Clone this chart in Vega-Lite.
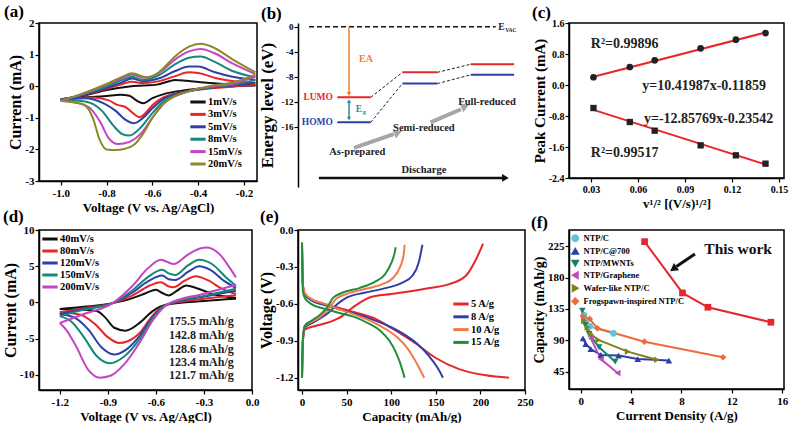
{
"$schema": "https://vega.github.io/schema/vega-lite/v6.json",
"background": "white",
"padding": {"left": 1, "top": 2, "right": 2, "bottom": 2},
"columns": 3,
"bounds": "flush",
"spacing": {"row": 43, "column": 41},
"resolve": {"scale": {"color": "independent", "shape": "independent"}, "legend": {"color": "independent", "shape": "independent"}},
"config": {
  "locale": {"number": {"decimal": ".", "thousands": ",", "grouping": [3], "currency": ["", ""], "minus": "-"}},
  "font": "Liberation Serif",
  "view": {"stroke": "black", "strokeWidth": 1.5},
  "axis": {"grid": false, "domainColor": "black", "domainWidth": 1.5, "tickColor": "black", "tickWidth": 1.2, "tickSize": 4, "labelFont": "Liberation Serif", "labelFontWeight": "bold", "labelFontSize": 11, "labelColor": "black", "labelFlush": false, "labelPadding": 2, "titleFont": "Liberation Serif", "titleFontWeight": "bold", "titleFontSize": 13, "titleColor": "black", "titlePadding": 3},
  "axisY": {"titleFontSize": 16, "titlePadding": 1, "labelPadding": 1},
  "legend": {"labelFont": "Liberation Serif", "labelFontWeight": "bold", "labelColor": "black", "labelFontSize": 11},
  "title": {"font": "Liberation Serif", "fontSize": 17, "fontWeight": "bold", "anchor": "start", "frame": "group", "color": "black", "offset": -4},
  "text": {"font": "Liberation Serif", "fontWeight": "bold", "color": "black"}
},
"datasets": {
  "A": [
    {"s":"1mV/s","b":"u","V":-1.0,"I":-0.41},{"s":"1mV/s","b":"u","V":-0.9,"I":-0.3},{"s":"1mV/s","b":"u","V":-0.8,"I":-0.12},{"s":"1mV/s","b":"u","V":-0.7,"I":-0.01},{"s":"1mV/s","b":"u","V":-0.64,"I":0.02},{"s":"1mV/s","b":"u","V":-0.58,"I":0.05},{"s":"1mV/s","b":"u","V":-0.53,"I":0.15},{"s":"1mV/s","b":"u","V":-0.5,"I":0.2},{"s":"1mV/s","b":"u","V":-0.45,"I":0.17},{"s":"1mV/s","b":"u","V":-0.35,"I":0.1},{"s":"1mV/s","b":"u","V":-0.25,"I":0.06},{"s":"1mV/s","b":"u","V":-0.15,"I":0.04},
    {"s":"1mV/s","b":"l","V":-0.15,"I":0.02},{"s":"1mV/s","b":"l","V":-0.25,"I":0.0},{"s":"1mV/s","b":"l","V":-0.35,"I":-0.04},{"s":"1mV/s","b":"l","V":-0.45,"I":-0.12},{"s":"1mV/s","b":"l","V":-0.55,"I":-0.25},{"s":"1mV/s","b":"l","V":-0.6,"I":-0.38},{"s":"1mV/s","b":"l","V":-0.64,"I":-0.54},{"s":"1mV/s","b":"l","V":-0.67,"I":-0.45},{"s":"1mV/s","b":"l","V":-0.7,"I":-0.3},{"s":"1mV/s","b":"l","V":-0.74,"I":-0.27},{"s":"1mV/s","b":"l","V":-0.8,"I":-0.31},{"s":"1mV/s","b":"l","V":-0.9,"I":-0.36},{"s":"1mV/s","b":"l","V":-1.0,"I":-0.41},
    {"s":"3mV/s","b":"u","V":-1.0,"I":-0.42},{"s":"3mV/s","b":"u","V":-0.9,"I":-0.28},{"s":"3mV/s","b":"u","V":-0.8,"I":-0.08},{"s":"3mV/s","b":"u","V":-0.73,"I":0.07},{"s":"3mV/s","b":"u","V":-0.69,"I":0.14},{"s":"3mV/s","b":"u","V":-0.64,"I":0.1},{"s":"3mV/s","b":"u","V":-0.57,"I":0.16},{"s":"3mV/s","b":"u","V":-0.5,"I":0.32},{"s":"3mV/s","b":"u","V":-0.44,"I":0.44},{"s":"3mV/s","b":"u","V":-0.4,"I":0.42},{"s":"3mV/s","b":"u","V":-0.32,"I":0.25},{"s":"3mV/s","b":"u","V":-0.22,"I":0.13},{"s":"3mV/s","b":"u","V":-0.15,"I":0.1},
    {"s":"3mV/s","b":"l","V":-0.15,"I":0.05},{"s":"3mV/s","b":"l","V":-0.25,"I":-0.02},{"s":"3mV/s","b":"l","V":-0.35,"I":-0.07},{"s":"3mV/s","b":"l","V":-0.45,"I":-0.16},{"s":"3mV/s","b":"l","V":-0.55,"I":-0.35},{"s":"3mV/s","b":"l","V":-0.6,"I":-0.6},{"s":"3mV/s","b":"l","V":-0.63,"I":-0.85},{"s":"3mV/s","b":"l","V":-0.655,"I":-0.98},{"s":"3mV/s","b":"l","V":-0.69,"I":-0.82},{"s":"3mV/s","b":"l","V":-0.72,"I":-0.65},{"s":"3mV/s","b":"l","V":-0.75,"I":-0.6},{"s":"3mV/s","b":"l","V":-0.79,"I":-0.45},{"s":"3mV/s","b":"l","V":-0.86,"I":-0.36},{"s":"3mV/s","b":"l","V":-1.0,"I":-0.42},
    {"s":"5mV/s","b":"u","V":-1.0,"I":-0.43},{"s":"5mV/s","b":"u","V":-0.9,"I":-0.27},{"s":"5mV/s","b":"u","V":-0.8,"I":-0.05},{"s":"5mV/s","b":"u","V":-0.73,"I":0.13},{"s":"5mV/s","b":"u","V":-0.69,"I":0.24},{"s":"5mV/s","b":"u","V":-0.64,"I":0.16},{"s":"5mV/s","b":"u","V":-0.57,"I":0.25},{"s":"5mV/s","b":"u","V":-0.5,"I":0.48},{"s":"5mV/s","b":"u","V":-0.44,"I":0.62},{"s":"5mV/s","b":"u","V":-0.4,"I":0.62},{"s":"5mV/s","b":"u","V":-0.33,"I":0.45},{"s":"5mV/s","b":"u","V":-0.25,"I":0.3},{"s":"5mV/s","b":"u","V":-0.15,"I":0.2},
    {"s":"5mV/s","b":"l","V":-0.15,"I":0.12},{"s":"5mV/s","b":"l","V":-0.25,"I":0.02},{"s":"5mV/s","b":"l","V":-0.35,"I":-0.05},{"s":"5mV/s","b":"l","V":-0.45,"I":-0.17},{"s":"5mV/s","b":"l","V":-0.55,"I":-0.4},{"s":"5mV/s","b":"l","V":-0.6,"I":-0.7},{"s":"5mV/s","b":"l","V":-0.64,"I":-1.0},{"s":"5mV/s","b":"l","V":-0.68,"I":-1.17},{"s":"5mV/s","b":"l","V":-0.72,"I":-1.05},{"s":"5mV/s","b":"l","V":-0.76,"I":-0.78},{"s":"5mV/s","b":"l","V":-0.81,"I":-0.55},{"s":"5mV/s","b":"l","V":-0.9,"I":-0.38},{"s":"5mV/s","b":"l","V":-1.0,"I":-0.43},
    {"s":"8mV/s","b":"u","V":-1.0,"I":-0.44},{"s":"8mV/s","b":"u","V":-0.9,"I":-0.25},{"s":"8mV/s","b":"u","V":-0.8,"I":0.0},{"s":"8mV/s","b":"u","V":-0.73,"I":0.2},{"s":"8mV/s","b":"u","V":-0.69,"I":0.3},{"s":"8mV/s","b":"u","V":-0.64,"I":0.2},{"s":"8mV/s","b":"u","V":-0.57,"I":0.35},{"s":"8mV/s","b":"u","V":-0.5,"I":0.7},{"s":"8mV/s","b":"u","V":-0.44,"I":0.9},{"s":"8mV/s","b":"u","V":-0.39,"I":0.94},{"s":"8mV/s","b":"u","V":-0.33,"I":0.78},{"s":"8mV/s","b":"u","V":-0.25,"I":0.48},{"s":"8mV/s","b":"u","V":-0.15,"I":0.28},
    {"s":"8mV/s","b":"l","V":-0.15,"I":0.2},{"s":"8mV/s","b":"l","V":-0.25,"I":0.04},{"s":"8mV/s","b":"l","V":-0.35,"I":-0.04},{"s":"8mV/s","b":"l","V":-0.45,"I":-0.18},{"s":"8mV/s","b":"l","V":-0.55,"I":-0.48},{"s":"8mV/s","b":"l","V":-0.6,"I":-0.85},{"s":"8mV/s","b":"l","V":-0.65,"I":-1.3},{"s":"8mV/s","b":"l","V":-0.7,"I":-1.56},{"s":"8mV/s","b":"l","V":-0.73,"I":-1.52},{"s":"8mV/s","b":"l","V":-0.77,"I":-1.25},{"s":"8mV/s","b":"l","V":-0.82,"I":-0.78},{"s":"8mV/s","b":"l","V":-0.9,"I":-0.48},{"s":"8mV/s","b":"l","V":-1.0,"I":-0.44},
    {"s":"15mV/s","b":"u","V":-1.0,"I":-0.46},{"s":"15mV/s","b":"u","V":-0.9,"I":-0.23},{"s":"15mV/s","b":"u","V":-0.8,"I":0.05},{"s":"15mV/s","b":"u","V":-0.73,"I":0.26},{"s":"15mV/s","b":"u","V":-0.69,"I":0.37},{"s":"15mV/s","b":"u","V":-0.64,"I":0.27},{"s":"15mV/s","b":"u","V":-0.57,"I":0.42},{"s":"15mV/s","b":"u","V":-0.5,"I":0.85},{"s":"15mV/s","b":"u","V":-0.44,"I":1.1},{"s":"15mV/s","b":"u","V":-0.39,"I":1.18},{"s":"15mV/s","b":"u","V":-0.33,"I":1.05},{"s":"15mV/s","b":"u","V":-0.25,"I":0.72},{"s":"15mV/s","b":"u","V":-0.15,"I":0.38},
    {"s":"15mV/s","b":"l","V":-0.15,"I":0.3},{"s":"15mV/s","b":"l","V":-0.25,"I":0.08},{"s":"15mV/s","b":"l","V":-0.35,"I":-0.02},{"s":"15mV/s","b":"l","V":-0.45,"I":-0.18},{"s":"15mV/s","b":"l","V":-0.55,"I":-0.55},{"s":"15mV/s","b":"l","V":-0.6,"I":-1.0},{"s":"15mV/s","b":"l","V":-0.65,"I":-1.5},{"s":"15mV/s","b":"l","V":-0.7,"I":-1.76},{"s":"15mV/s","b":"l","V":-0.75,"I":-1.83},{"s":"15mV/s","b":"l","V":-0.79,"I":-1.65},{"s":"15mV/s","b":"l","V":-0.83,"I":-1.1},{"s":"15mV/s","b":"l","V":-0.88,"I":-0.65},{"s":"15mV/s","b":"l","V":-0.95,"I":-0.5},{"s":"15mV/s","b":"l","V":-1.0,"I":-0.46},
    {"s":"20mV/s","b":"u","V":-1.0,"I":-0.47},{"s":"20mV/s","b":"u","V":-0.9,"I":-0.22},{"s":"20mV/s","b":"u","V":-0.8,"I":0.07},{"s":"20mV/s","b":"u","V":-0.73,"I":0.3},{"s":"20mV/s","b":"u","V":-0.69,"I":0.41},{"s":"20mV/s","b":"u","V":-0.62,"I":0.27},{"s":"20mV/s","b":"u","V":-0.57,"I":0.45},{"s":"20mV/s","b":"u","V":-0.5,"I":0.95},{"s":"20mV/s","b":"u","V":-0.44,"I":1.25},{"s":"20mV/s","b":"u","V":-0.39,"I":1.34},{"s":"20mV/s","b":"u","V":-0.34,"I":1.25},{"s":"20mV/s","b":"u","V":-0.25,"I":0.85},{"s":"20mV/s","b":"u","V":-0.15,"I":0.44},
    {"s":"20mV/s","b":"l","V":-0.15,"I":0.36},{"s":"20mV/s","b":"l","V":-0.25,"I":0.12},{"s":"20mV/s","b":"l","V":-0.35,"I":0.0},{"s":"20mV/s","b":"l","V":-0.45,"I":-0.18},{"s":"20mV/s","b":"l","V":-0.55,"I":-0.55},{"s":"20mV/s","b":"l","V":-0.6,"I":-1.0},{"s":"20mV/s","b":"l","V":-0.64,"I":-1.5},{"s":"20mV/s","b":"l","V":-0.68,"I":-1.85},{"s":"20mV/s","b":"l","V":-0.72,"I":-1.98},{"s":"20mV/s","b":"l","V":-0.76,"I":-2.02},{"s":"20mV/s","b":"l","V":-0.8,"I":-2.0},{"s":"20mV/s","b":"l","V":-0.83,"I":-1.7},{"s":"20mV/s","b":"l","V":-0.86,"I":-1.0},{"s":"20mV/s","b":"l","V":-0.9,"I":-0.58},{"s":"20mV/s","b":"l","V":-0.95,"I":-0.5},{"s":"20mV/s","b":"l","V":-1.0,"I":-0.47}
  ],
  "D": [
    {"s":"40mV/s","b":"u","V":-1.2,"I":-0.9},{"s":"40mV/s","b":"u","V":-1.05,"I":-0.6},{"s":"40mV/s","b":"u","V":-0.87,"I":-0.1},{"s":"40mV/s","b":"u","V":-0.75,"I":0.55},{"s":"40mV/s","b":"u","V":-0.66,"I":1.3},{"s":"40mV/s","b":"u","V":-0.6,"I":1.75},{"s":"40mV/s","b":"u","V":-0.56,"I":1.3},{"s":"40mV/s","b":"u","V":-0.52,"I":0.97},{"s":"40mV/s","b":"u","V":-0.47,"I":1.6},{"s":"40mV/s","b":"u","V":-0.41,"I":2.35},{"s":"40mV/s","b":"u","V":-0.35,"I":2.0},{"s":"40mV/s","b":"u","V":-0.25,"I":1.2},{"s":"40mV/s","b":"u","V":-0.1,"I":0.6},
    {"s":"40mV/s","b":"l","V":-0.1,"I":0.5},{"s":"40mV/s","b":"l","V":-0.3,"I":0.2},{"s":"40mV/s","b":"l","V":-0.53,"I":-0.3},{"s":"40mV/s","b":"l","V":-0.62,"I":-1.2},{"s":"40mV/s","b":"l","V":-0.7,"I":-2.8},{"s":"40mV/s","b":"l","V":-0.79,"I":-3.9},{"s":"40mV/s","b":"l","V":-0.86,"I":-3.5},{"s":"40mV/s","b":"l","V":-0.92,"I":-2.0},{"s":"40mV/s","b":"l","V":-0.97,"I":-1.2},{"s":"40mV/s","b":"l","V":-1.05,"I":-1.0},{"s":"40mV/s","b":"l","V":-1.2,"I":-0.9},
    {"s":"80mV/s","b":"u","V":-1.2,"I":-1.35},{"s":"80mV/s","b":"u","V":-1.05,"I":-0.8},{"s":"80mV/s","b":"u","V":-0.87,"I":-0.1},{"s":"80mV/s","b":"u","V":-0.75,"I":0.9},{"s":"80mV/s","b":"u","V":-0.65,"I":2.2},{"s":"80mV/s","b":"u","V":-0.57,"I":2.8},{"s":"80mV/s","b":"u","V":-0.52,"I":2.2},{"s":"80mV/s","b":"u","V":-0.49,"I":2.1},{"s":"80mV/s","b":"u","V":-0.42,"I":3.0},{"s":"80mV/s","b":"u","V":-0.35,"I":3.6},{"s":"80mV/s","b":"u","V":-0.28,"I":3.1},{"s":"80mV/s","b":"u","V":-0.18,"I":1.8},{"s":"80mV/s","b":"u","V":-0.1,"I":1.15},
    {"s":"80mV/s","b":"l","V":-0.1,"I":1.0},{"s":"80mV/s","b":"l","V":-0.3,"I":0.5},{"s":"80mV/s","b":"l","V":-0.53,"I":-0.3},{"s":"80mV/s","b":"l","V":-0.62,"I":-1.8},{"s":"80mV/s","b":"l","V":-0.7,"I":-4.2},{"s":"80mV/s","b":"l","V":-0.78,"I":-5.4},{"s":"80mV/s","b":"l","V":-0.83,"I":-5.6},{"s":"80mV/s","b":"l","V":-0.9,"I":-4.8},{"s":"80mV/s","b":"l","V":-0.98,"I":-3.0},{"s":"80mV/s","b":"l","V":-1.07,"I":-1.7},{"s":"80mV/s","b":"l","V":-1.2,"I":-1.35},
    {"s":"120mV/s","b":"u","V":-1.2,"I":-1.6},{"s":"120mV/s","b":"u","V":-1.05,"I":-0.9},{"s":"120mV/s","b":"u","V":-0.87,"I":-0.1},{"s":"120mV/s","b":"u","V":-0.75,"I":1.3},{"s":"120mV/s","b":"u","V":-0.65,"I":2.9},{"s":"120mV/s","b":"u","V":-0.56,"I":3.7},{"s":"120mV/s","b":"u","V":-0.52,"I":3.2},{"s":"120mV/s","b":"u","V":-0.48,"I":3.1},{"s":"120mV/s","b":"u","V":-0.4,"I":4.2},{"s":"120mV/s","b":"u","V":-0.33,"I":5.0},{"s":"120mV/s","b":"u","V":-0.26,"I":4.5},{"s":"120mV/s","b":"u","V":-0.17,"I":2.9},{"s":"120mV/s","b":"u","V":-0.1,"I":2.0},
    {"s":"120mV/s","b":"l","V":-0.1,"I":1.6},{"s":"120mV/s","b":"l","V":-0.3,"I":0.8},{"s":"120mV/s","b":"l","V":-0.53,"I":-0.3},{"s":"120mV/s","b":"l","V":-0.62,"I":-2.0},{"s":"120mV/s","b":"l","V":-0.7,"I":-4.6},{"s":"120mV/s","b":"l","V":-0.79,"I":-6.6},{"s":"120mV/s","b":"l","V":-0.86,"I":-7.2},{"s":"120mV/s","b":"l","V":-0.94,"I":-6.2},{"s":"120mV/s","b":"l","V":-1.02,"I":-3.8},{"s":"120mV/s","b":"l","V":-1.1,"I":-2.2},{"s":"120mV/s","b":"l","V":-1.2,"I":-1.6},
    {"s":"150mV/s","b":"u","V":-1.2,"I":-1.9},{"s":"150mV/s","b":"u","V":-1.05,"I":-1.0},{"s":"150mV/s","b":"u","V":-0.87,"I":-0.1},{"s":"150mV/s","b":"u","V":-0.75,"I":1.6},{"s":"150mV/s","b":"u","V":-0.65,"I":3.5},{"s":"150mV/s","b":"u","V":-0.56,"I":4.5},{"s":"150mV/s","b":"u","V":-0.52,"I":4.0},{"s":"150mV/s","b":"u","V":-0.48,"I":3.8},{"s":"150mV/s","b":"u","V":-0.4,"I":5.1},{"s":"150mV/s","b":"u","V":-0.33,"I":5.9},{"s":"150mV/s","b":"u","V":-0.25,"I":5.3},{"s":"150mV/s","b":"u","V":-0.16,"I":3.4},{"s":"150mV/s","b":"u","V":-0.1,"I":2.3},
    {"s":"150mV/s","b":"l","V":-0.1,"I":1.9},{"s":"150mV/s","b":"l","V":-0.3,"I":0.9},{"s":"150mV/s","b":"l","V":-0.53,"I":-0.3},{"s":"150mV/s","b":"l","V":-0.62,"I":-2.2},{"s":"150mV/s","b":"l","V":-0.7,"I":-5.0},{"s":"150mV/s","b":"l","V":-0.8,"I":-7.5},{"s":"150mV/s","b":"l","V":-0.89,"I":-8.4},{"s":"150mV/s","b":"l","V":-0.97,"I":-7.4},{"s":"150mV/s","b":"l","V":-1.05,"I":-4.8},{"s":"150mV/s","b":"l","V":-1.12,"I":-2.8},{"s":"150mV/s","b":"l","V":-1.2,"I":-1.9},
    {"s":"200mV/s","b":"u","V":-1.2,"I":-2.85},{"s":"200mV/s","b":"u","V":-1.05,"I":-1.6},{"s":"200mV/s","b":"u","V":-0.87,"I":-0.1},{"s":"200mV/s","b":"u","V":-0.75,"I":2.2},{"s":"200mV/s","b":"u","V":-0.65,"I":4.7},{"s":"200mV/s","b":"u","V":-0.57,"I":5.9},{"s":"200mV/s","b":"u","V":-0.53,"I":5.6},{"s":"200mV/s","b":"u","V":-0.49,"I":5.3},{"s":"200mV/s","b":"u","V":-0.4,"I":6.6},{"s":"200mV/s","b":"u","V":-0.33,"I":7.4},{"s":"200mV/s","b":"u","V":-0.28,"I":7.6},{"s":"200mV/s","b":"u","V":-0.2,"I":6.6},{"s":"200mV/s","b":"u","V":-0.14,"I":4.8},{"s":"200mV/s","b":"u","V":-0.1,"I":3.45},
    {"s":"200mV/s","b":"l","V":-0.1,"I":2.4},{"s":"200mV/s","b":"l","V":-0.3,"I":1.2},{"s":"200mV/s","b":"l","V":-0.53,"I":-0.3},{"s":"200mV/s","b":"l","V":-0.62,"I":-2.5},{"s":"200mV/s","b":"l","V":-0.7,"I":-5.5},{"s":"200mV/s","b":"l","V":-0.8,"I":-8.6},{"s":"200mV/s","b":"l","V":-0.88,"I":-10.1},{"s":"200mV/s","b":"l","V":-0.95,"I":-10.4},{"s":"200mV/s","b":"l","V":-1.02,"I":-9.4},{"s":"200mV/s","b":"l","V":-1.1,"I":-6.0},{"s":"200mV/s","b":"l","V":-1.16,"I":-3.8},{"s":"200mV/s","b":"l","V":-1.2,"I":-2.85}
  ],
  "E": [
    {"s":"5 A/g","b":"d","C":0,"V":-0.12},{"s":"5 A/g","b":"d","C":1,"V":-0.45},{"s":"5 A/g","b":"d","C":3,"V":-0.52},{"s":"5 A/g","b":"d","C":10,"V":-0.56},{"s":"5 A/g","b":"d","C":25,"V":-0.6},{"s":"5 A/g","b":"d","C":40,"V":-0.63},{"s":"5 A/g","b":"d","C":60,"V":-0.67},{"s":"5 A/g","b":"d","C":82,"V":-0.72},{"s":"5 A/g","b":"d","C":101,"V":-0.8},{"s":"5 A/g","b":"d","C":127,"V":-0.92},{"s":"5 A/g","b":"d","C":150,"V":-1.04},{"s":"5 A/g","b":"d","C":176,"V":-1.13},{"s":"5 A/g","b":"d","C":206,"V":-1.18},{"s":"5 A/g","b":"d","C":232,"V":-1.2},
    {"s":"5 A/g","b":"c","C":0,"V":-1.2},{"s":"5 A/g","b":"c","C":1,"V":-0.9},{"s":"5 A/g","b":"c","C":3,"V":-0.81},{"s":"5 A/g","b":"c","C":15,"V":-0.78},{"s":"5 A/g","b":"c","C":30,"V":-0.75},{"s":"5 A/g","b":"c","C":45,"V":-0.7},{"s":"5 A/g","b":"c","C":55,"V":-0.64},{"s":"5 A/g","b":"c","C":65,"V":-0.59},{"s":"5 A/g","b":"c","C":75,"V":-0.55},{"s":"5 A/g","b":"c","C":100,"V":-0.52},{"s":"5 A/g","b":"c","C":120,"V":-0.5},{"s":"5 A/g","b":"c","C":145,"V":-0.47},{"s":"5 A/g","b":"c","C":165,"V":-0.44},{"s":"5 A/g","b":"c","C":184,"V":-0.37},{"s":"5 A/g","b":"c","C":195,"V":-0.24},{"s":"5 A/g","b":"c","C":203,"V":-0.11},
    {"s":"8 A/g","b":"d","C":0,"V":-0.12},{"s":"8 A/g","b":"d","C":1,"V":-0.45},{"s":"8 A/g","b":"d","C":3,"V":-0.52},{"s":"8 A/g","b":"d","C":10,"V":-0.57},{"s":"8 A/g","b":"d","C":25,"V":-0.61},{"s":"8 A/g","b":"d","C":40,"V":-0.64},{"s":"8 A/g","b":"d","C":60,"V":-0.68},{"s":"8 A/g","b":"d","C":80,"V":-0.73},{"s":"8 A/g","b":"d","C":100,"V":-0.79},{"s":"8 A/g","b":"d","C":115,"V":-0.85},{"s":"8 A/g","b":"d","C":130,"V":-0.93},{"s":"8 A/g","b":"d","C":142,"V":-1.02},{"s":"8 A/g","b":"d","C":152,"V":-1.12},{"s":"8 A/g","b":"d","C":158,"V":-1.2},
    {"s":"8 A/g","b":"c","C":0,"V":-1.2},{"s":"8 A/g","b":"c","C":1,"V":-0.9},{"s":"8 A/g","b":"c","C":3,"V":-0.79},{"s":"8 A/g","b":"c","C":10,"V":-0.76},{"s":"8 A/g","b":"c","C":20,"V":-0.72},{"s":"8 A/g","b":"c","C":30,"V":-0.67},{"s":"8 A/g","b":"c","C":40,"V":-0.6},{"s":"8 A/g","b":"c","C":50,"V":-0.55},{"s":"8 A/g","b":"c","C":70,"V":-0.51},{"s":"8 A/g","b":"c","C":95,"V":-0.47},{"s":"8 A/g","b":"c","C":112,"V":-0.43},{"s":"8 A/g","b":"c","C":124,"V":-0.37},{"s":"8 A/g","b":"c","C":131,"V":-0.26},{"s":"8 A/g","b":"c","C":135,"V":-0.12},
    {"s":"10 A/g","b":"d","C":0,"V":-0.12},{"s":"10 A/g","b":"d","C":1,"V":-0.45},{"s":"10 A/g","b":"d","C":3,"V":-0.51},{"s":"10 A/g","b":"d","C":10,"V":-0.56},{"s":"10 A/g","b":"d","C":25,"V":-0.6},{"s":"10 A/g","b":"d","C":40,"V":-0.64},{"s":"10 A/g","b":"d","C":60,"V":-0.69},{"s":"10 A/g","b":"d","C":80,"V":-0.75},{"s":"10 A/g","b":"d","C":95,"V":-0.81},{"s":"10 A/g","b":"d","C":108,"V":-0.88},{"s":"10 A/g","b":"d","C":118,"V":-0.96},{"s":"10 A/g","b":"d","C":126,"V":-1.05},{"s":"10 A/g","b":"d","C":132,"V":-1.13},{"s":"10 A/g","b":"d","C":137,"V":-1.2},
    {"s":"10 A/g","b":"c","C":0,"V":-1.2},{"s":"10 A/g","b":"c","C":1,"V":-0.9},{"s":"10 A/g","b":"c","C":3,"V":-0.78},{"s":"10 A/g","b":"c","C":10,"V":-0.75},{"s":"10 A/g","b":"c","C":20,"V":-0.71},{"s":"10 A/g","b":"c","C":30,"V":-0.64},{"s":"10 A/g","b":"c","C":38,"V":-0.56},{"s":"10 A/g","b":"c","C":50,"V":-0.52},{"s":"10 A/g","b":"c","C":70,"V":-0.48},{"s":"10 A/g","b":"c","C":90,"V":-0.44},{"s":"10 A/g","b":"c","C":102,"V":-0.39},{"s":"10 A/g","b":"c","C":110,"V":-0.3},{"s":"10 A/g","b":"c","C":114,"V":-0.2},{"s":"10 A/g","b":"c","C":115,"V":-0.12},
    {"s":"15 A/g","b":"d","C":0,"V":-0.1},{"s":"15 A/g","b":"d","C":1,"V":-0.5},{"s":"15 A/g","b":"d","C":3,"V":-0.55},{"s":"15 A/g","b":"d","C":10,"V":-0.6},{"s":"15 A/g","b":"d","C":25,"V":-0.64},{"s":"15 A/g","b":"d","C":40,"V":-0.67},{"s":"15 A/g","b":"d","C":60,"V":-0.71},{"s":"15 A/g","b":"d","C":75,"V":-0.76},{"s":"15 A/g","b":"d","C":88,"V":-0.82},{"s":"15 A/g","b":"d","C":98,"V":-0.9},{"s":"15 A/g","b":"d","C":105,"V":-0.99},{"s":"15 A/g","b":"d","C":110,"V":-1.08},{"s":"15 A/g","b":"d","C":113,"V":-1.15},{"s":"15 A/g","b":"d","C":115,"V":-1.2},
    {"s":"15 A/g","b":"c","C":0,"V":-1.2},{"s":"15 A/g","b":"c","C":1,"V":-0.88},{"s":"15 A/g","b":"c","C":3,"V":-0.78},{"s":"15 A/g","b":"c","C":10,"V":-0.74},{"s":"15 A/g","b":"c","C":20,"V":-0.69},{"s":"15 A/g","b":"c","C":28,"V":-0.63},{"s":"15 A/g","b":"c","C":35,"V":-0.55},{"s":"15 A/g","b":"c","C":45,"V":-0.51},{"s":"15 A/g","b":"c","C":65,"V":-0.47},{"s":"15 A/g","b":"c","C":82,"V":-0.42},{"s":"15 A/g","b":"c","C":93,"V":-0.36},{"s":"15 A/g","b":"c","C":100,"V":-0.27},{"s":"15 A/g","b":"c","C":104,"V":-0.18},{"s":"15 A/g","b":"c","C":105,"V":-0.14}
  ],
  "F": [
    {"s":"NTP/C","x":0.26,"y":126.3},{"s":"NTP/C","x":0.72,"y":110},{"s":"NTP/C","x":2.6,"y":100},
    {"s":"NTP/C@700","x":0.18,"y":92.8},{"s":"NTP/C@700","x":0.4,"y":84.6},{"s":"NTP/C@700","x":0.8,"y":77.4},{"s":"NTP/C@700","x":1.6,"y":68.8},{"s":"NTP/C@700","x":3.0,"y":68},{"s":"NTP/C@700","x":4.53,"y":63},{"s":"NTP/C@700","x":7.0,"y":60.8},
    {"s":"NTP/MWNTs","x":0.13,"y":132.6},{"s":"NTP/MWNTs","x":0.35,"y":112},{"s":"NTP/MWNTs","x":0.66,"y":99},{"s":"NTP/MWNTs","x":1.46,"y":80},{"s":"NTP/MWNTs","x":2.74,"y":59.3},
    {"s":"NTP/Graphene","x":0.8,"y":92.8},{"s":"NTP/Graphene","x":1.6,"y":63},{"s":"NTP/Graphene","x":2.93,"y":43},
    {"s":"Wafer-like NTP/C","x":0.26,"y":118},{"s":"Wafer-like NTP/C","x":0.53,"y":108.6},{"s":"Wafer-like NTP/C","x":0.8,"y":99},{"s":"Wafer-like NTP/C","x":1.4,"y":90.4},{"s":"Wafer-like NTP/C","x":3.73,"y":73.7},{"s":"Wafer-like NTP/C","x":6.05,"y":62},
    {"s":"Frogspawn-inspired NTP/C","x":0.18,"y":124.4},{"s":"Frogspawn-inspired NTP/C","x":0.72,"y":120.6},{"s":"Frogspawn-inspired NTP/C","x":1.33,"y":107.2},{"s":"Frogspawn-inspired NTP/C","x":5.06,"y":88},{"s":"Frogspawn-inspired NTP/C","x":11.3,"y":65.6}
  ]
},
"concat": [
  {
    "width": 218, "height": 158,
    "title": {"text": "(a)", "dx": -35},
    "data": {"name": "A"},
    "mark": {"type": "line", "interpolate": "monotone", "strokeWidth": 2},
    "encoding": {
      "x": {"field": "V", "type": "quantitative", "scale": {"domain": [-1.095, -0.143], "nice": false, "zero": false}, "axis": {"values": [-1, -0.8, -0.6, -0.4, -0.2], "format": ".1f", "title": "Voltage (V vs. Ag/AgCl)"}},
      "y": {"field": "I", "type": "quantitative", "scale": {"domain": [-3, 2], "nice": false, "zero": false}, "axis": {"values": [-3, -2, -1, 0, 1, 2], "title": "Current (mA)"}},
      "color": {"field": "s", "type": "nominal", "scale": {"domain": ["1mV/s","3mV/s","5mV/s","8mV/s","15mV/s","20mV/s"], "range": ["#111111","#e8262a","#2d3fa8","#13897b","#c444c4","#8a8a28"]}, "legend": {"title": null, "orient": "none", "legendX": 153, "legendY": 73, "symbolType": "M-1.7,0H1.7", "symbolStrokeWidth": 3, "symbolSize": 81, "rowPadding": 0.4, "labelFontSize": 10.5}},
      "detail": {"field": "b", "type": "nominal"}
    }
  },
  {
    "width": 230, "height": 164,
    "title": {"text": "(b)", "dx": -37, "offset": -1},
    "view": {"stroke": null},
    "encoding": {
      "x": {"field": "x", "type": "quantitative", "scale": {"domain": [0.138, 10.74], "nice": false, "zero": false}, "axis": null},
      "y": {"field": "y", "type": "quantitative", "scale": {"domain": [-25.65, 0.6], "nice": false, "zero": false}, "axis": {"values": [0, -4, -8, -12, -16], "title": "Energy level (eV)", "titleFontSize": 17, "labelFontSize": 9, "titlePadding": 5}}
    },
    "layer": [
      {"data": {"values": [{"x":1.95,"x2":3.49,"y":-11.3,"k":"LUMO"},{"x":1.95,"x2":3.49,"y":-15.3,"k":"HOMO"},{"x":4.95,"x2":6.56,"y":-7.3,"k":"LUMO"},{"x":4.95,"x2":6.56,"y":-9.1,"k":"HOMO"},{"x":8.1,"x2":10.1,"y":-6.0,"k":"LUMO"},{"x":8.1,"x2":10.1,"y":-7.7,"k":"HOMO"}]},
       "mark": {"type": "rule", "strokeWidth": 2},
       "encoding": {"x2": {"field": "x2"}, "color": {"field": "k", "type": "nominal", "scale": {"domain": ["LUMO","HOMO"], "range": ["#e8262a","#2d3fa8"]}, "legend": null}}},
      {"data": {"values": [{"x":3.49,"y":-11.3,"x2":4.95,"y2":-7.3},{"x":3.49,"y":-15.3,"x2":4.95,"y2":-9.1},{"x":6.56,"y":-7.3,"x2":8.1,"y2":-6.0},{"x":6.56,"y":-9.1,"x2":8.1,"y2":-7.7}]},
       "mark": {"type": "rule", "strokeWidth": 1, "strokeDash": [3, 2], "color": "#222"},
       "encoding": {"x2": {"field": "x2"}, "y2": {"field": "y2"}}},
      {"data": {"values": [{"x":0.645,"x2":9.25,"y":0}]},
       "mark": {"type": "rule", "strokeWidth": 1.5, "strokeDash": [5, 3], "color": "#111"},
       "encoding": {"x2": {"field": "x2"}}},
      {"data": {"values": [{"x":2.49,"y":0,"y2":-10.7}]},
       "mark": {"type": "rule", "strokeWidth": 1.5, "color": "#f08030"},
       "encoding": {"y2": {"field": "y2"}}},
      {"data": {"values": [{"x":2.49,"y":-10.75}]},
       "mark": {"type": "point", "shape": "triangle-down", "filled": true, "size": 22, "color": "#f08030", "opacity": 1},
       "encoding": {}},
      {"data": {"values": [{"x":2.49,"y":-11.9,"y2":-14.7}]},
       "mark": {"type": "rule", "strokeWidth": 1.5, "color": "#2a8f9a"},
       "encoding": {"y2": {"field": "y2"}}},
      {"data": {"values": [{"x":2.49,"y":-11.9}]},
       "mark": {"type": "point", "shape": "triangle-up", "filled": true, "size": 18, "color": "#2a8f9a", "opacity": 1},
       "encoding": {}},
      {"data": {"values": [{"x":2.49,"y":-14.7}]},
       "mark": {"type": "point", "shape": "triangle-down", "filled": true, "size": 18, "color": "#2a8f9a", "opacity": 1},
       "encoding": {}},
      {"data": {"values": [{"x":2.72,"y":-19.4,"x2":4.55,"y2":-17.2},{"x":6.25,"y":-15.3,"x2":7.65,"y2":-13.2}]},
       "mark": {"type": "rule", "strokeWidth": 4, "color": "#a6a6a6"},
       "encoding": {"x2": {"field": "x2"}, "y2": {"field": "y2"}}},
      {"data": {"values": [{"x":4.75,"y":-16.95},{"x":7.85,"y":-12.75}]},
       "mark": {"type": "point", "shape": "triangle-up", "filled": true, "size": 90, "angle": 68, "color": "#a6a6a6", "opacity": 1},
       "encoding": {}},
      {"data": {"values": [{"x":1.1,"x2":9.6,"y":-24.2}]},
       "mark": {"type": "rule", "strokeWidth": 2.5, "color": "#111"},
       "encoding": {"x2": {"field": "x2"}}},
      {"data": {"values": [{"x":9.7,"y":-24.2}]},
       "mark": {"type": "point", "shape": "triangle-right", "filled": true, "size": 60, "color": "#111", "opacity": 1},
       "encoding": {}},
      {"data": {"values": [{"x":2.87,"y":-20.1,"t":"As-prepared"},{"x":5.94,"y":-16.2,"t":"Semi-reduced"},{"x":8.85,"y":-12.1,"t":"Full-reduced"},{"x":5.94,"y":-22.9,"t":"Discharge"}]},
       "mark": {"type": "text", "fontSize": 10.5, "align": "center", "baseline": "middle", "color": "#222"},
       "encoding": {"text": {"field": "t"}}},
      {"data": {"values": [{"x":1.75,"y":-11.3,"t":"LUMO"}]},
       "mark": {"type": "text", "fontSize": 9.5, "align": "right", "baseline": "middle", "color": "#e8262a"},
       "encoding": {"text": {"field": "t"}}},
      {"data": {"values": [{"x":1.75,"y":-15.3,"t":"HOMO"}]},
       "mark": {"type": "text", "fontSize": 9.5, "align": "right", "baseline": "middle", "color": "#2d3fa8"},
       "encoding": {"text": {"field": "t"}}},
      {"data": {"values": [{"x":2.95,"y":-5.2,"t":"EA"}]},
       "mark": {"type": "text", "fontSize": 10, "align": "left", "baseline": "middle", "color": "#f08030"},
       "encoding": {"text": {"field": "t"}}},
      {"data": {"values": [{"x":2.8,"y":-13.1,"t":"E"}]},
       "mark": {"type": "text", "fontSize": 9.5, "align": "left", "baseline": "middle", "color": "#2a8f9a"},
       "encoding": {"text": {"field": "t"}}},
      {"data": {"values": [{"x":3.12,"y":-13.6,"t":"g"}]},
       "mark": {"type": "text", "fontSize": 6.5, "align": "left", "baseline": "middle", "color": "#2a8f9a"},
       "encoding": {"text": {"field": "t"}}},
      {"data": {"values": [{"x":9.37,"y":0,"t":"E"}]},
       "mark": {"type": "text", "fontSize": 9.5, "align": "left", "baseline": "middle", "color": "#222"},
       "encoding": {"text": {"field": "t"}}},
      {"data": {"values": [{"x":9.69,"y":-0.45,"t":"VAC"}]},
       "mark": {"type": "text", "fontSize": 5.5, "align": "left", "baseline": "middle", "color": "#222"},
       "encoding": {"text": {"field": "t"}}}
    ]
  },
  {
    "width": 215, "height": 155,
    "title": {"text": "(c)", "dx": -37},
    "encoding": {
      "x": {"field": "x", "type": "quantitative", "scale": {"domain": [0.016, 0.1532], "nice": false, "zero": false}, "axis": {"values": [0.03, 0.06, 0.09, 0.12, 0.15], "format": ".2f", "title": "v¹/² [(V/s)¹/²]", "labelFontSize": 10}},
      "y": {"field": "y", "type": "quantitative", "scale": {"domain": [-2.4, 1.6], "nice": false, "zero": false}, "axis": {"values": [-2.4, -1.6, -0.8, 0, 0.8, 1.6], "format": ".1f", "title": "Peak Current (mA)", "titleFontSize": 15, "labelFontSize": 10}}
    },
    "layer": [
      {"data": {"values": [{"p":"a","x":0.0316,"y":0.211},{"p":"a","x":0.1414,"y":1.355},{"p":"c","x":0.0316,"y":-0.642},{"p":"c","x":0.1414,"y":-2.053}]},
       "mark": {"type": "line", "color": "#e8262a", "strokeWidth": 2},
       "encoding": {"detail": {"field": "p", "type": "nominal"}}},
      {"data": {"values": [{"x":0.0316,"y":0.2},{"x":0.0548,"y":0.465},{"x":0.0707,"y":0.636},{"x":0.1,"y":0.946},{"x":0.1225,"y":1.17},{"x":0.1414,"y":1.34}]},
       "mark": {"type": "point", "shape": "circle", "filled": true, "size": 45, "color": "#222", "opacity": 1}},
      {"data": {"values": [{"x":0.0316,"y":-0.594},{"x":0.0548,"y":-0.955},{"x":0.0707,"y":-1.179},{"x":0.1,"y":-1.557},{"x":0.1225,"y":-1.815},{"x":0.1414,"y":-2.03}]},
       "mark": {"type": "point", "shape": "square", "filled": true, "size": 40, "color": "#222", "opacity": 1}},
      {"data": {"values": [{"x":0.0299,"y":1.06,"t":"R²=0.99896"},{"x":0.0627,"y":-0.036,"t":"y=10.41987x-0.11859"},{"x":0.0638,"y":-0.87,"t":"y=-12.85769x-0.23542"},{"x":0.0299,"y":-1.755,"t":"R²=0.99517"}]},
       "mark": {"type": "text", "fontSize": 14, "align": "left", "baseline": "middle", "color": "#222"},
       "encoding": {"text": {"field": "t"}}}
    ]
  },
  {
    "width": 213, "height": 160,
    "title": {"text": "(d)", "dx": -36, "offset": -2},
    "encoding": {
      "x": {"field": "V", "type": "quantitative", "scale": {"domain": [-1.33, 0], "nice": false, "zero": false}, "axis": {"values": [-1.2, -0.9, -0.6, -0.3, 0], "format": ".1f", "title": "Voltage (V vs. Ag/AgCl)"}},
      "y": {"field": "I", "type": "quantitative", "scale": {"domain": [-12.1, 10], "nice": false, "zero": false}, "axis": {"values": [-10, -5, 0, 5, 10], "title": "Current (mA)"}}
    },
    "layer": [
      {"data": {"name": "D"},
       "mark": {"type": "line", "interpolate": "monotone", "strokeWidth": 2},
       "encoding": {
         "color": {"field": "s", "type": "nominal", "scale": {"domain": ["40mV/s","80mV/s","120mV/s","150mV/s","200mV/s"], "range": ["#111111","#e8262a","#2d3fa8","#13897b","#c444c4"]}, "legend": {"title": null, "orient": "none", "legendX": 5, "legendY": 3, "symbolType": "M-1.7,0H1.7", "symbolStrokeWidth": 3, "symbolSize": 81, "rowPadding": 0, "labelFontSize": 10.5}},
         "detail": {"field": "b", "type": "nominal"}
       }},
      {"data": {"values": [{"V":-0.114,"I":-2.53,"t":"175.5 mAh/g"},{"V":-0.114,"I":-4.46,"t":"142.8 mAh/g"},{"V":-0.114,"I":-6.4,"t":"128.6 mAh/g"},{"V":-0.114,"I":-8.23,"t":"123.4 mAh/g"},{"V":-0.114,"I":-10.07,"t":"121.7 mAh/g"}]},
       "mark": {"type": "text", "fontSize": 12, "align": "right", "baseline": "middle", "color": "#222"},
       "encoding": {"text": {"field": "t"}}}
    ]
  },
  {
    "width": 227, "height": 160,
    "title": {"text": "(e)", "dx": -38, "offset": -2},
    "data": {"name": "E"},
    "mark": {"type": "line", "interpolate": "monotone", "strokeWidth": 2},
    "encoding": {
      "x": {"field": "C", "type": "quantitative", "scale": {"domain": [-4.5, 250], "nice": false, "zero": false}, "axis": {"values": [0, 50, 100, 150, 200, 250], "title": "Capacity (mAh/g)"}},
      "y": {"field": "V", "type": "quantitative", "scale": {"domain": [-1.3, 0], "nice": false, "zero": false}, "axis": {"values": [0, -0.3, -0.6, -0.9, -1.2], "format": ".1f", "title": "Voltage (V)"}},
      "color": {"field": "s", "type": "nominal", "scale": {"domain": ["5 A/g","8 A/g","10 A/g","15 A/g"], "range": ["#e8262a","#2d3fa8","#f07a4a","#1f8f3a"]}, "legend": {"title": null, "orient": "none", "legendX": 157, "legendY": 68, "symbolType": "M-1.7,0H1.7", "symbolStrokeWidth": 3, "symbolSize": 81, "rowPadding": 0.8, "labelFontSize": 10.5}},
      "detail": {"field": "b", "type": "nominal"}
    }
  },
  {
    "width": 215, "height": 159,
    "title": {"text": "(f)", "dx": -38, "offset": -2},
    "encoding": {
      "x": {"field": "x", "type": "quantitative", "scale": {"domain": [-0.93, 16.14], "nice": false, "zero": false}, "axis": {"values": [0, 4, 8, 12, 16], "title": "Current Density (A/g)"}},
      "y": {"field": "y", "type": "quantitative", "scale": {"domain": [20, 248.4], "nice": false, "zero": false}, "axis": {"values": [45, 90, 135, 180, 225], "title": "Capacity (mAh/g)", "titleFontSize": 14}}
    },
    "layer": [
      {"data": {"name": "F"},
       "mark": {"type": "line", "strokeWidth": 2},
       "encoding": {"color": {"field": "s", "type": "nominal", "scale": {"domain": ["NTP/C","NTP/C@700","NTP/MWNTs","NTP/Graphene","Wafer-like NTP/C","Frogspawn-inspired NTP/C"], "range": ["#5cc6d6","#2b3fa8","#16806e","#c04ac0","#80801e","#f06a3a"]}, "legend": {"title": null, "orient": "none", "legendX": 2, "legendY": 4, "symbolSize": 40, "rowPadding": 0, "labelFontSize": 8.5}}}},
      {"data": {"name": "F"},
       "mark": {"type": "point", "filled": true, "size": 45, "opacity": 1},
       "encoding": {
         "color": {"field": "s", "type": "nominal", "scale": {"domain": ["NTP/C","NTP/C@700","NTP/MWNTs","NTP/Graphene","Wafer-like NTP/C","Frogspawn-inspired NTP/C"], "range": ["#5cc6d6","#2b3fa8","#16806e","#c04ac0","#80801e","#f06a3a"]}, "legend": {"title": null, "orient": "none", "legendX": 2, "legendY": 4, "symbolSize": 40, "rowPadding": 0, "labelFontSize": 8.5}},
         "shape": {"field": "s", "type": "nominal", "scale": {"domain": ["NTP/C","NTP/C@700","NTP/MWNTs","NTP/Graphene","Wafer-like NTP/C","Frogspawn-inspired NTP/C"], "range": ["circle","triangle-up","triangle-down","triangle-left","triangle-right","diamond"]}, "legend": {"title": null, "orient": "none", "legendX": 2, "legendY": 4, "symbolSize": 40, "rowPadding": 0, "labelFontSize": 8.5}}
       }},
      {"data": {"values": [{"x":5.07,"y":231.7},{"x":8.08,"y":158},{"x":10.1,"y":137.4},{"x":15.1,"y":115.9}]},
       "mark": {"type": "line", "color": "#e8262a", "strokeWidth": 2, "point": {"shape": "square", "filled": true, "size": 45, "color": "#e8262a", "opacity": 1}}},
      {"data": {"values": [{"x":12.5,"y":221,"t":"This work"}]},
       "mark": {"type": "text", "fontSize": 15.5, "align": "center", "baseline": "middle", "color": "#111"},
       "encoding": {"text": {"field": "t"}}},
      {"data": {"values": [{"x":9.07,"y":214,"x2":7.6,"y2":196}]},
       "mark": {"type": "rule", "strokeWidth": 3, "color": "#111"},
       "encoding": {"x2": {"field": "x2"}, "y2": {"field": "y2"}}},
      {"data": {"values": [{"x":7.35,"y":192.5}]},
       "mark": {"type": "point", "shape": "triangle-up", "filled": true, "size": 80, "angle": 235, "color": "#111", "opacity": 1},
       "encoding": {}}
    ]
  }
]
}
